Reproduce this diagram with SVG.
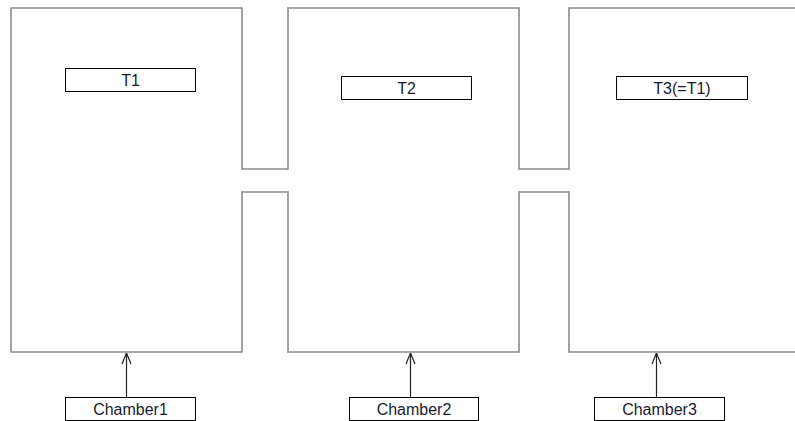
<svg xmlns="http://www.w3.org/2000/svg" width="795" height="421" viewBox="0 0 795 421">
<style>
.wall{fill:none;stroke:#8c8c8c;stroke-width:1.6;stroke-linecap:round;stroke-linejoin:miter}
.lbl{fill:#fff;stroke:#000;stroke-width:1}
.t{font-family:"Liberation Sans",Arial,sans-serif;font-size:16px;fill:#1a1a2e;text-anchor:middle}
.arr{fill:none;stroke:#222;stroke-width:1.2}
</style>
<defs>
<marker id="ah" viewBox="0 0 12 12" refX="12" refY="6" markerWidth="12" markerHeight="12" markerUnits="userSpaceOnUse" orient="auto">
<path d="M1,1.5 L12,6 L1,10.5" fill="none" stroke="#222" stroke-width="1.2"/>
</marker>
</defs>
<rect width="795" height="421" fill="#fff"/>
<g id="walls">
<path class="wall" d="M242,169 L242,8 L11,8 L11,352 L242,352 L242,192"/>
<path class="wall" d="M242,169 L288,169 M242,192 L288,192"/>
<path class="wall" d="M288,169 L288,8 L519,8 L519,169 M288,192 L288,352 L519,352 L519,192"/>
<path class="wall" d="M519,169 L569,169 M519,192 L569,192"/>
<path class="wall" d="M800,8 L569,8 L569,169 M569,192 L569,352 L800,352"/>
</g>
<g id="T1"><rect class="lbl" x="65.5" y="68.5" width="130" height="23"/><text class="t" x="130.5" y="86">T1</text></g>
<g id="T2"><rect class="lbl" x="341.5" y="76.5" width="130" height="23"/><text class="t" x="406.5" y="94">T2</text></g>
<g id="T3"><rect class="lbl" x="616.5" y="76.5" width="131" height="23"/><text class="t" x="682" y="94">T3(=T1)</text></g>
<g id="Chamber1"><rect class="lbl" x="65.5" y="397.5" width="130" height="23"/><text class="t" x="130.5" y="415">Chamber1</text></g>
<g id="Chamber2"><rect class="lbl" x="349.5" y="397.5" width="129" height="23"/><text class="t" x="414" y="415">Chamber2</text></g>
<g id="Chamber3"><rect class="lbl" x="594.5" y="397.5" width="130" height="23"/><text class="t" x="659.5" y="415">Chamber3</text></g>
<g id="connectors">
<line class="arr" x1="126.5" y1="397" x2="126.5" y2="353" marker-end="url(#ah)"/>
<line class="arr" x1="410.5" y1="397" x2="410.5" y2="353" marker-end="url(#ah)"/>
<line class="arr" x1="656.5" y1="397" x2="656.5" y2="353" marker-end="url(#ah)"/>
</g>
</svg>
